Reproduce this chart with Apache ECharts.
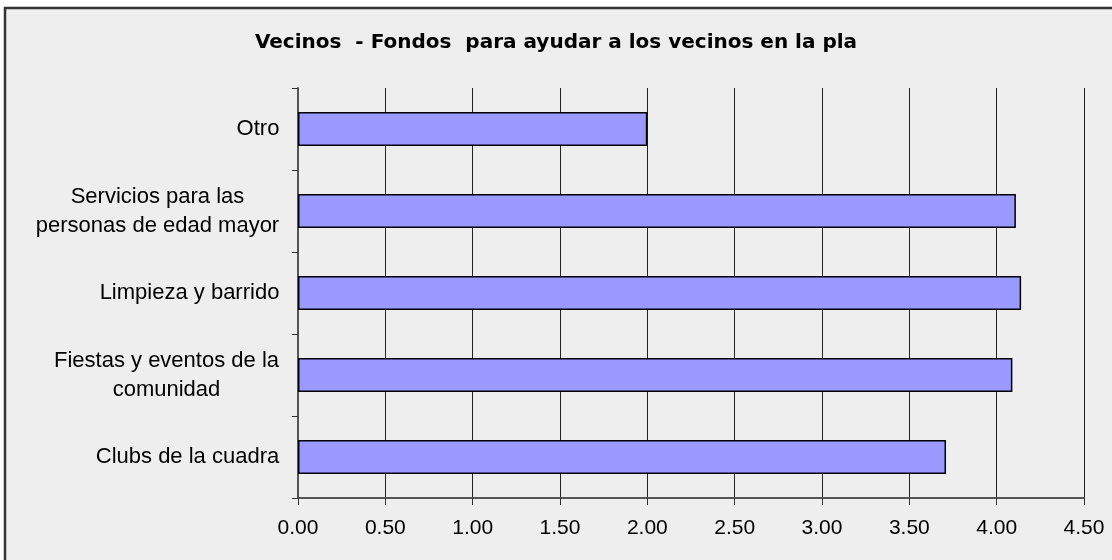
<!DOCTYPE html>
<html>
<head>
<meta charset="utf-8">
<script src="https://cdn.jsdelivr.net/npm/echarts@6/dist/echarts.min.js"></script>
<style>
  html, body { margin: 0; padding: 0; background: #fff; }
  #chart { width: 1112px; height: 560px; }
</style>
</head>
<body>
<div id="chart"></div>
<script>
// Datos del gráfico (de arriba hacia abajo)
const categorias = [
  'Otro',
  'Servicios para las\npersonas de edad mayor',
  'Limpieza y barrido',
  'Fiestas y eventos de la\ncomunidad',
  'Clubs de la cuadra'
];
const valores = [2.00, 4.11, 4.14, 4.09, 3.71];
const ticksX = ['0.00', '0.50', '1.00', '1.50', '2.00', '2.50', '3.00', '3.50', '4.00', '4.50'];

const fuente = 'Liberation Sans, Arial, sans-serif';
const tamLetra = 22;

// medir el ancho de cada etiqueta para centrar las líneas dentro del bloque
const ctx = document.createElement('canvas').getContext('2d');
ctx.font = tamLetra + 'px ' + fuente;
const rich = {};
categorias.forEach(function (c, i) {
  const ancho = Math.max.apply(null, c.split('\n').map(function (l) { return ctx.measureText(l).width; }));
  rich['c' + i] = {
    width: Math.ceil(ancho) + 1,
    align: 'center',
    fontSize: tamLetra,
    fontFamily: fuente,
    color: '#000',
    lineHeight: 29
  };
});

const myChart = echarts.init(document.getElementById('chart'));

const option = {
  backgroundColor: '#ffffff',
  textStyle: { fontFamily: fuente },
  graphic: [
    {
      type: 'rect',
      shape: { x: 5, y: 8, width: 1120, height: 570 },
      style: { fill: '#eeeeee', stroke: '#333333', lineWidth: 2.5 },
      z: -10,
      silent: true
    }
  ],
  title: {
    text: 'Vecinos  - Fondos  para ayudar a los vecinos en la pla',
    left: 'center',
    top: 28,
    textStyle: {
      fontFamily: 'DejaVu Sans',
      fontWeight: 'bold',
      fontSize: 20,
      color: '#000'
    }
  },
  grid: {
    left: 298,
    right: 28,
    top: 88,
    bottom: 62
  },
  xAxis: {
    type: 'value',
    min: 0,
    max: 4.5,
    interval: 0.5,
    axisLine: { show: true, lineStyle: { color: '#555', width: 2 } },
    axisTick: { show: true, length: 7, lineStyle: { color: '#333' } },
    splitLine: { show: true, lineStyle: { color: '#222', width: 1 } },
    axisLabel: {
      margin: 20,
      fontSize: 21,
      color: '#000',
      formatter: function (v) { return ticksX[Math.round(v / 0.5)]; }
    }
  },
  yAxis: {
    type: 'category',
    inverse: true,
    data: categorias,
    axisLine: { show: true, lineStyle: { color: '#555', width: 2 } },
    axisTick: { show: true, length: 6, lineStyle: { color: '#333' } },
    axisLabel: {
      margin: 18,
      rich: rich,
      formatter: function (valor, idx) {
        return valor.split('\n').map(function (l) { return '{c' + idx + '|' + l + '}'; }).join('\n');
      }
    }
  },
  series: [
    {
      type: 'bar',
      data: valores,
      barWidth: 34,
      itemStyle: {
        color: '#9999ff',
        borderColor: '#000',
        borderWidth: 1.5
      }
    }
  ]
};

myChart.setOption(option);
</script>
</body>
</html>
